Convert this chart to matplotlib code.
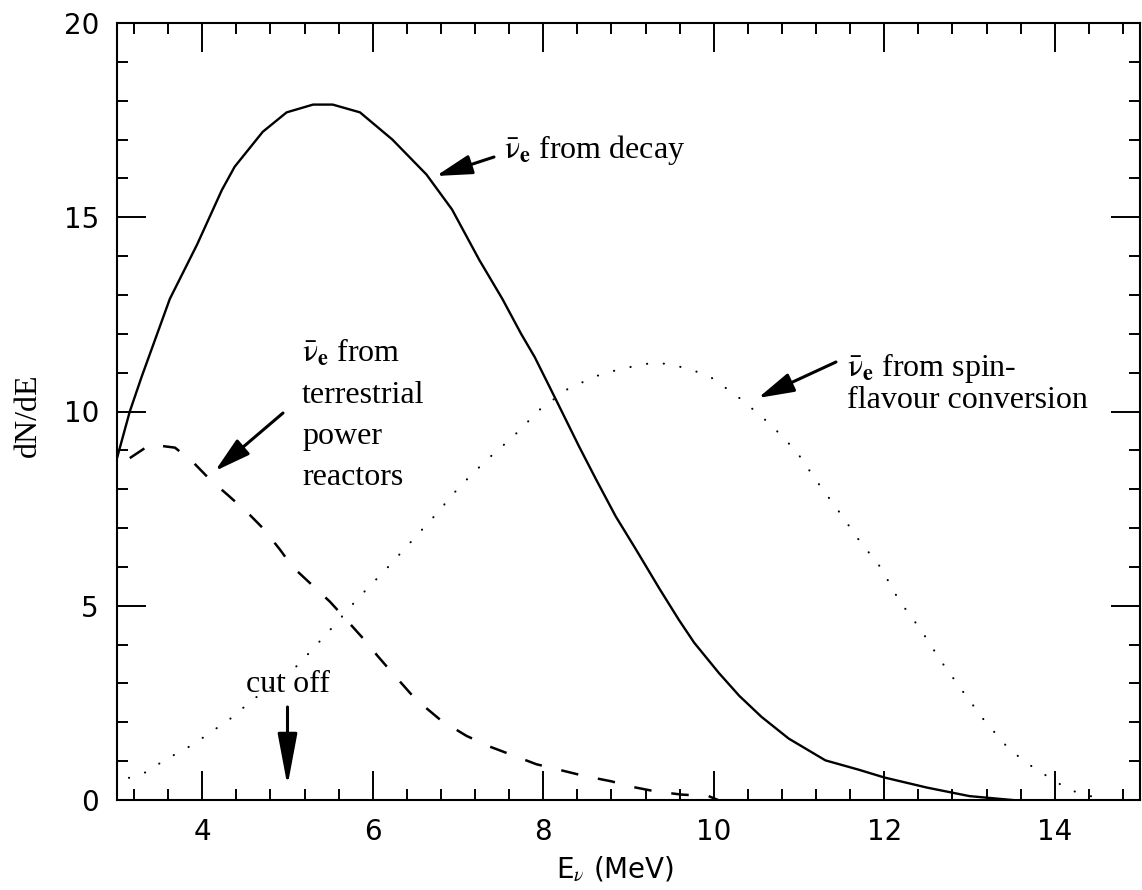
import numpy as np
import matplotlib
matplotlib.use("Agg")
import matplotlib.pyplot as plt
from matplotlib.ticker import MultipleLocator

plt.rcParams["mathtext.fontset"] = "stix"

# curves
decay_E = [3.0, 3.15, 3.29, 3.62, 3.94, 4.23, 4.38, 4.71, 4.99, 5.30, 5.53,
           5.85, 6.23, 6.63, 6.93, 7.25, 7.52, 7.74, 7.90, 8.15, 8.42, 8.62,
           8.85, 9.09, 9.36, 9.59, 9.77, 10.06, 10.30, 10.56, 10.88, 11.31,
           11.70, 12.0, 12.5, 13.0, 13.5]
decay_N = [8.8, 10.0, 10.9, 12.9, 14.3, 15.7, 16.3, 17.2, 17.7, 17.9, 17.9,
           17.7, 17.0, 16.1, 15.2, 13.9, 12.9, 12.0, 11.4, 10.3, 9.1, 8.25,
           7.3, 6.44, 5.45, 4.64, 4.05, 3.27, 2.68, 2.14, 1.58, 1.02,
           0.78, 0.58, 0.32, 0.1, 0.0]

reactor_E = [3.15, 3.39, 3.68, 3.89, 4.09, 4.3, 4.53, 4.71, 4.91, 5.06, 5.28,
             5.5, 5.69, 5.87, 6.06, 6.23, 6.5, 6.8, 7.1, 7.39, 7.68, 7.92,
             8.22, 8.48, 8.8, 9.04, 9.32, 9.62, 9.94, 10.05]
reactor_N = [8.8, 9.15, 9.07, 8.7, 8.25, 7.85, 7.4, 7.0, 6.45, 6.0, 5.55,
             5.1, 4.64, 4.2, 3.7, 3.27, 2.6, 2.05, 1.65, 1.36, 1.12, 0.92,
             0.76, 0.62, 0.48, 0.34, 0.22, 0.14, 0.1, 0.0]

spin_E = [3.14, 3.36, 3.55, 3.73, 3.91, 4.1, 4.29, 4.44, 4.63, 5.0, 5.26,
          5.55, 5.83, 6.16, 6.45, 6.72, 7.02, 7.33, 7.65, 7.96, 8.3, 8.7,
          9.13, 9.32, 9.52, 9.76, 9.99, 10.33, 10.67, 10.97, 11.21, 11.47,
          11.7, 11.96, 12.17, 12.43, 12.67, 12.92, 13.17, 13.44, 13.64,
          13.81, 14.17, 14.5]
spin_N = [0.57, 0.73, 1.02, 1.23, 1.45, 1.75, 2.02, 2.3, 2.64, 3.2, 3.8,
          4.5, 5.2, 5.95, 6.65, 7.3, 8.07, 8.74, 9.36, 10.05, 10.6, 10.98,
          11.2, 11.26, 11.2, 11.06, 10.85, 10.3, 9.66, 8.97, 8.2, 7.42,
          6.7, 5.98, 5.15, 4.38, 3.56, 2.8, 2.06, 1.37, 1.0,
          0.75, 0.26, 0.05]

cutoff_E = 5.0

W, H = 1142, 890
fig = plt.figure(figsize=(W / 100, H / 100), dpi=100)
ax = fig.add_axes([117 / W, 1 - 800 / H, (1140 - 117) / W, (800 - 23) / H])
ax.set_xlim(3, 15)
ax.set_ylim(0, 20)


def px(xp, yp):
    # picture pixel -> data coords
    return 3 + (xp - 117) / 85.25, (800 - yp) / 38.85


ax.plot(decay_E, decay_N, color="k", lw=1.7)
ax.plot(reactor_E, reactor_N, color="k", lw=1.8, linestyle=(0, (7, 8)))
ax.plot(spin_E, spin_N, color="k", lw=1.5, linestyle=(0, (0.1, 8)),
        dash_capstyle="round")

ax.xaxis.set_major_locator(MultipleLocator(2))
ax.xaxis.set_minor_locator(MultipleLocator(0.4))
ax.yaxis.set_major_locator(MultipleLocator(5))
ax.yaxis.set_minor_locator(MultipleLocator(1))
ax.tick_params(which="both", direction="in", top=True, right=True,
               width=1.4, labelsize=20, pad=13)
ax.tick_params(which="major", length=21)
ax.tick_params(which="minor", length=8)
for s in ax.spines.values():
    s.set_linewidth(1.5)

serif = "Liberation Serif"
afs = 23
nu = r"$\bar{\mathrm{\nu}}_{\mathbf{e}}$"
arr = dict(arrowstyle="-|>,head_length=1.1,head_width=0.3", color="k",
           lw=2.2, mutation_scale=20, shrinkA=0, shrinkB=0)

# decay label
ax.annotate("", xy=px(436, 176), xytext=px(494, 157), arrowprops=arr)
ax.text(*px(504, 158), nu + " from decay",
        family=serif, fontsize=afs, va="baseline")

# reactor label
ax.annotate("", xy=px(215, 471), xytext=px(283, 413), arrowprops=arr)
reactor_lines = [nu + " from", "terrestrial", "power", "reactors"]
for i, line in enumerate(reactor_lines):
    ax.text(*px(302, 362 + 41 * i), line, family=serif, fontsize=afs,
            va="baseline")

# spin-flavour label
ax.annotate("", xy=px(758, 398), xytext=px(836, 362), arrowprops=arr)
spin_lines = [nu + " from spin-", "flavour conversion"]
for i, line in enumerate(spin_lines):
    ax.text(*px(847, 376 + 32 * i), line, family=serif, fontsize=afs,
            va="baseline")

# cut off
ax.text(cutoff_E, px(0, 692)[1], "cut off", family=serif, fontsize=afs,
        ha="center", va="baseline")
ax.annotate("", xy=(cutoff_E, px(0, 786)[1]), xytext=(cutoff_E, px(0, 707)[1]),
            arrowprops=dict(arrowstyle="-|>,head_length=1.6,head_width=0.3",
                            color="k", lw=2.2, mutation_scale=20,
                            shrinkA=0, shrinkB=0))

fig.text(28 / W, 1 - 415 / H, "dN/dE", family=serif, fontsize=23,
         rotation=90, ha="center", va="center")
fig.text(615 / W, 1 - 870 / H, r"E$_\nu$ (MeV)", fontsize=20,
         ha="center", va="center")

fig.savefig("out.png", dpi=100)
